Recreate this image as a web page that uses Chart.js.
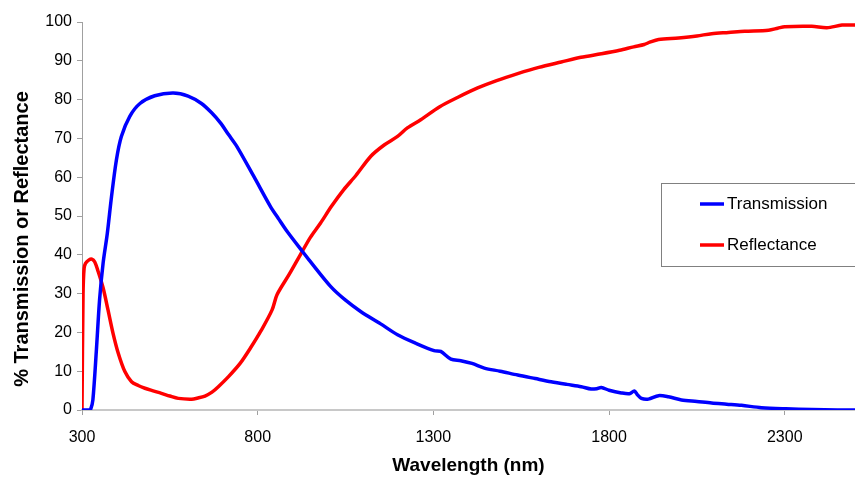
<!DOCTYPE html>
<html>
<head>
<meta charset="utf-8">
<script src="https://cdn.jsdelivr.net/npm/chart.js@4"></script>
<style>
  html, body { margin: 0; padding: 0; background: #fff; }
  #wrap { width: 855px; height: 479px; }
</style>
</head>
<body>
<div id="wrap"><canvas id="chart" width="855" height="479"></canvas></div>
<script>
// wavelength (nm) / value (%) pairs
const transWave = [300, 320, 325, 331, 341, 350, 360, 372, 384, 398, 412, 436, 465, 507, 560, 602, 640, 669, 694, 717, 741, 789, 836, 860, 884, 927, 946, 1008, 1050, 1093, 1150, 1198, 1250, 1302, 1321, 1350, 1378, 1410, 1445, 1490, 1540, 1590, 1635, 1680, 1721, 1749, 1765, 1778, 1800, 1835, 1858, 1872, 1880, 1892, 1912, 1941, 1969, 2006, 2050, 2092, 2135, 2177, 2234, 2303, 2377, 2450, 2500];
const transmission = [0, 0, 0.3, 2.6, 15.5, 28.4, 37.8, 45.5, 55, 64.5, 70.5, 75.7, 79, 81, 81.7, 80.9, 79, 76.6, 74, 71, 67.9, 60.2, 52.5, 49.2, 46, 40.9, 38.7, 31.8, 28.3, 25.4, 22.2, 19.4, 17.2, 15.3, 15.1, 13.1, 12.7, 12.0, 10.8, 10.0, 9.0, 8.1, 7.3, 6.6, 6.0, 5.4, 5.5, 5.8, 5.1, 4.4, 4.2, 4.9, 4.0, 3.0, 2.8, 3.7, 3.4, 2.6, 2.2, 1.8, 1.5, 1.2, 0.6, 0.3, 0.1, 0, 0];

const reflWave = [300, 303, 306, 310, 320, 328, 336, 346, 360, 374, 388, 403, 422, 441, 460, 479, 500, 526, 550, 574, 612, 630, 650, 670, 688, 717, 750, 779, 810, 841, 855, 890, 927, 950, 979, 1010, 1045, 1080, 1122, 1160, 1198, 1226, 1264, 1317, 1370, 1426, 1480, 1540, 1600, 1664, 1720, 1778, 1830, 1870, 1900, 1916, 1941, 1998, 2050, 2092, 2140, 2186, 2254, 2280, 2300, 2377, 2420, 2463, 2500];
const reflectance = [0, 30, 36.5, 37.8, 38.7, 38.9, 38.2, 35.7, 31.5, 25.8, 19.9, 14.7, 9.9, 7.3, 6.3, 5.6, 5.0, 4.3, 3.6, 3.0, 2.8, 3.1, 3.6, 4.6, 6.0, 8.6, 12.0, 15.9, 20.5, 25.8, 29.7, 35, 40.9, 44.5, 48.2, 52.5, 56.8, 60.5, 65.4, 68.3, 70.5, 72.7, 74.8, 78.1, 80.6, 83.0, 84.9, 86.7, 88.3, 89.7, 90.9, 91.8, 92.7, 93.6, 94.2, 94.8, 95.5, 95.9, 96.4, 97.0, 97.3, 97.6, 97.9, 98.4, 98.8, 98.9, 98.5, 99.2, 99.2];

const xTicks = [300, 800, 1300, 1800, 2300];
const seriesNames = ['Transmission', 'Reflectance'];
const seriesColors = ['#0000ff', '#ff0000'];
const yTitle = '% Transmission or Reflectance';

const toPoints = (xs, ys) => xs.map((x, i) => ({ x: x, y: ys[i] }));

const FONT = "'Liberation Sans', Arial, sans-serif";

// legend box and y title drawn like the spreadsheet ones
const boxLegend = {
  id: 'boxLegend',
  afterDraw(chart) {
    const ctx = chart.ctx;
    const x = 661, y = 183, w = 200, h = 83;
    ctx.save();
    ctx.strokeStyle = '#808080';
    ctx.lineWidth = 1;
    ctx.fillStyle = '#fff';
    ctx.fillRect(x, y, w, h);
    ctx.strokeRect(x + 0.5, y + 0.5, w, h);
    ctx.font = '17px ' + FONT;
    ctx.textBaseline = 'middle';
    seriesNames.forEach((name, i) => {
      const ly = 204 + i * 41;
      ctx.strokeStyle = seriesColors[i];
      ctx.lineWidth = 3.5;
      ctx.beginPath();
      ctx.moveTo(700, ly);
      ctx.lineTo(724, ly);
      ctx.stroke();
      ctx.fillStyle = '#000';
      ctx.fillText(name, 727, ly);
    });

    ctx.translate(22, 239);
    ctx.rotate(-Math.PI / 2);
    ctx.font = 'bold 20px ' + FONT;
    ctx.textAlign = 'center';
    ctx.fillText(yTitle, 0, 0);
    ctx.restore();
  },
};

new Chart(document.getElementById('chart'), {
  type: 'line',
  data: {
    datasets: [
      {
        label: seriesNames[0],
        data: toPoints(transWave, transmission),
        borderColor: seriesColors[0],
        borderWidth: 3.5,
        pointRadius: 0,
        tension: 0.3,
      },
      {
        label: seriesNames[1],
        data: toPoints(reflWave, reflectance),
        borderColor: seriesColors[1],
        borderWidth: 3.5,
        pointRadius: 0,
        tension: 0.3,
      },
    ],
  },
  options: {
    responsive: false,
    animation: false,
    layout: {
      padding: { top: 22, right: 0, left: 0, bottom: 0 },
    },
    scales: {
      x: {
        type: 'linear',
        min: 300,
        max: 2500,
        afterBuildTicks: (axis) => {
          axis.ticks = xTicks.map((v) => ({ value: v }));
        },
        afterFit: (scale) => {
          scale.height = 69;
        },
        grid: {
          drawOnChartArea: false,
          drawTicks: true,
          tickLength: 5,
          color: '#a0a0a0',
        },
        border: { color: '#c8c8c8', width: 2 },
        ticks: {
          color: '#000',
          padding: 13,
          maxRotation: 0,
          callback: (v) => String(v),
          font: { family: FONT, size: 16 },
        },
        title: {
          display: true,
          text: 'Wavelength (nm)',
          color: '#000',
          padding: { top: 0, bottom: 2 },
          font: { family: FONT, size: 19, weight: 'bold' },
        },
      },
      y: {
        min: 0,
        max: 100,
        afterFit: (scale) => {
          scale.width = 82;
        },
        ticks: {
          stepSize: 10,
          color: '#000',
          padding: 5,
          font: { family: FONT, size: 16 },
        },
        grid: {
          drawOnChartArea: false,
          drawTicks: true,
          tickLength: 5,
          color: '#a0a0a0',
        },
        border: { color: '#a0a0a0', width: 1 },
      },
    },
    plugins: {
      legend: { display: false },
      tooltip: { enabled: false },
    },
  },
  plugins: [boxLegend],
});
</script>
</body>
</html>
